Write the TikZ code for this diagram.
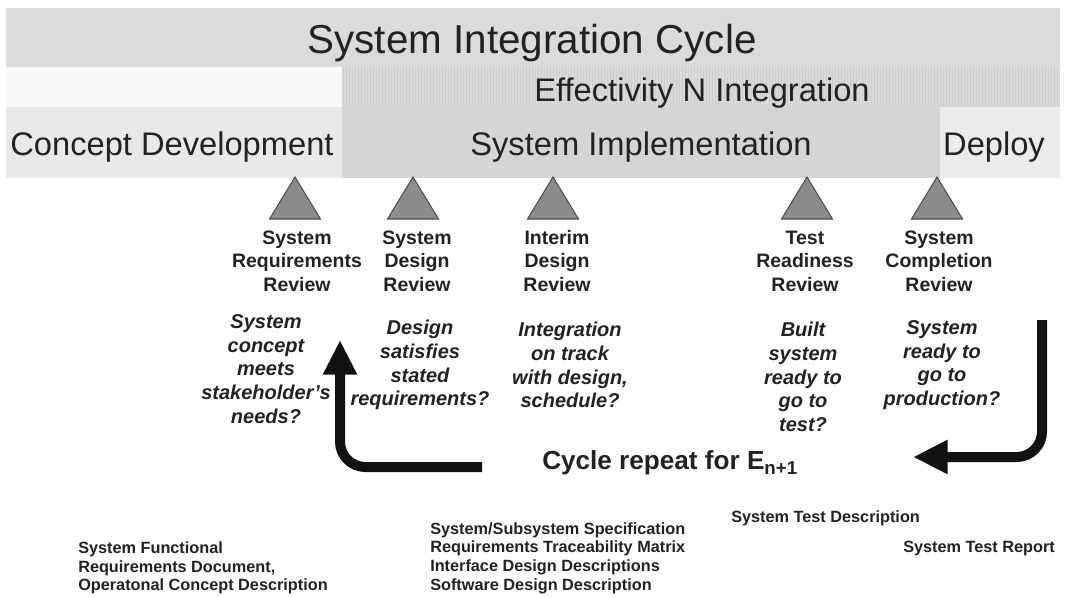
\documentclass[tikz,border=0pt]{standalone}
\usepackage{fontspec}
\setmainfont{Liberation Sans}
\usetikzlibrary{arrows.meta}
\definecolor{barTop}{HTML}{DBDBDC}
\definecolor{barBlank}{HTML}{F8F8F8}
\definecolor{barEff}{HTML}{DADADA}
\definecolor{barStripe}{HTML}{CECECE}
\definecolor{barConcept}{HTML}{E9E9E9}
\definecolor{barImpl}{HTML}{D5D5D5}
\definecolor{barDeploy}{HTML}{EBEBEB}
\definecolor{txt}{HTML}{222222}
\definecolor{msFill}{HTML}{8C8C8C}
\definecolor{msEdge}{HTML}{505050}
\begin{document}
\begin{tikzpicture}[x=0.75pt,y=-0.75pt,
  bartext/.style={text=txt, inner sep=0pt},
  phase/.style={bartext, font=\fontsize{24.5}{29}\selectfont, anchor=base},
  review/.style={text=txt, inner sep=0pt, align=center,
    font=\bfseries\fontsize{14.6}{17.6}\selectfont},
  question/.style={text=txt, inner sep=0pt, align=center,
    font=\bfseries\itshape\fontsize{15}{17.8}\selectfont},
  doc/.style={text=txt, inner sep=0pt, align=left, anchor=west,
    font=\bfseries\fontsize{12.2}{14}\selectfont},
  milestone/.style={fill=msFill, draw=msEdge, line width=0.8pt, line join=miter},
  bigarrow/.style={draw=black!93, line width=7.5pt, rounded corners=19pt,
    -{Triangle[length=26pt,width=24pt]}},
  stripe/.style={draw=barStripe, line width=0.5pt}
]
\useasboundingbox (0,0) rectangle (1066,597);
\fill[white] (0,0) rectangle (1066,597);

% phase bars
\fill[barTop] (6,8) rectangle (1060,67);
\fill[barBlank] (6,67) rectangle (342,107);
\fill[barEff] (342,67) rectangle (1060,107);
\foreach \x in {343,346,...,1059} \draw[stripe] (\x,67) -- (\x,107);
\fill[barConcept] (6,107) rectangle (342,178);
\fill[barImpl] (342,107) rectangle (940,178);
\fill[barDeploy] (940,107) rectangle (1060,178);

\node[bartext, font=\fontsize{30.3}{36}\selectfont, anchor=base] (cycle) at (532,53) {System Integration Cycle};
\node[phase] (eff) at (702,101) {Effectivity N Integration};
\node[phase] (concept) at (172,155) {Concept Development};
\node[phase] (impl) at (641,155) {System Implementation};
\node[phase] (deploy) at (994,155) {Deploy};

% review milestones
\foreach \x in {295,413,553,807,937}
  \draw[milestone] (\x-25.5,219) -- (\x,177) -- (\x+25.5,219) -- cycle;

\node[review] (srr) at (297,261) {System\\Requirements\\Review};
\node[review] (sdr) at (417,261) {System\\Design\\Review};
\node[review] (idr) at (557,261) {Interim\\Design\\Review};
\node[review] (trr) at (805,261) {Test\\Readiness\\Review};
\node[review] (scr) at (939,261) {System\\Completion\\Review};

% review questions
\node[question] (qsrr) at (266,369) {System\\concept\\meets\\stakeholder's\\needs?};
\node[question] (qsdr) at (420,365) {Design\\satisfies\\stated\\requirements?};
\node[question] (qidr) at (570,365) {Integration\\on track\\with design,\\schedule?};
\node[question] (qtrr) at (803,377) {Built\\system\\ready to\\go to\\test?};
\node[question] (qscr) at (942,365) {System\\ready to\\go to\\production?};

% repeat loop
\node[text=txt, inner sep=0pt, anchor=west, font=\bfseries\fontsize{19.6}{22}\selectfont] (rep) at (542,463)
  {Cycle repeat for E\raisebox{-0.35ex}{\fontsize{14}{14}\selectfont n+1}};
\coordinate (la0) at (482,467);
\coordinate (la1) at (340,340);
\draw[bigarrow] (la0) -| (la1);
\coordinate (ra0) at (1042,320);
\coordinate (ra1) at (913,457);
\draw[bigarrow] (ra0) |- (ra1);

% deliverables
\node[doc] (sfrd) at (78,568) {System Functional\\Requirements Document,\\Operatonal Concept Description};
\node[doc] (sss) at (430,558) {System/Subsystem Specification\\Requirements Traceability Matrix\\Interface Design Descriptions\\Software Design Description};
\node[doc] (std) at (731,518) {System Test Description};
\node[doc] (str) at (903,548) {System Test Report};
\end{tikzpicture}
\end{document}
